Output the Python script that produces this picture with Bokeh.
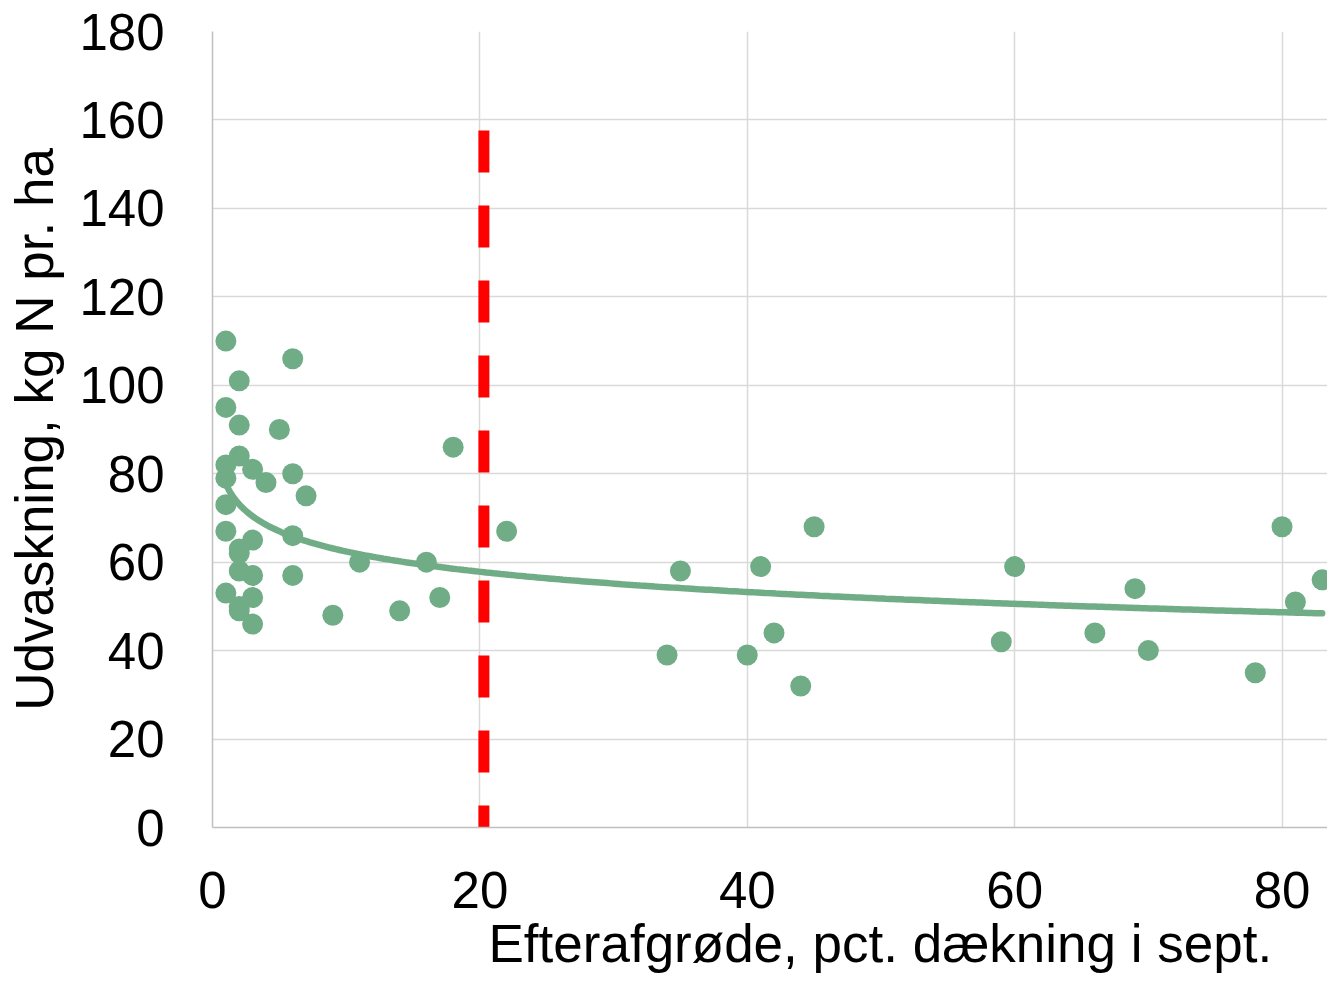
import numpy as np
from bokeh.plotting import figure
from bokeh.models import Range1d, FixedTicker, Title
from bokeh.embed import file_html
from bokeh.resources import INLINE

# ---- data ----
cover_pct = [1, 6, 2, 1, 2, 5, 2, 1, 3, 6, 1, 4, 7, 1, 18, 1, 6, 3, 2, 2,
             2, 3, 6, 1, 3, 2, 2, 3, 9, 22, 11, 16, 14, 17, 45, 35, 41, 34, 40, 42,
             44, 60, 59, 69, 66, 70, 78, 80, 81, 83]
leaching = [110, 106, 101, 95, 91, 90, 84, 82, 81, 80, 79, 78, 75, 73, 86, 67, 66, 65, 63, 62,
            58, 57, 57, 53, 52, 50, 49, 46, 48, 67, 60, 60, 49, 52, 68, 58, 59, 39, 39, 44,
            32, 59, 42, 54, 44, 40, 35, 68, 51, 56]

threshold_x = [20.3, 20.3]
threshold_y = [157.6, 0]

x_ticks = [0, 20, 40, 60, 80]
y_ticks = [0, 20, 40, 60, 80, 100, 120, 140, 160, 180]

x_title = "Efterafgrøde, pct. dækning i sept."
y_title = "Udvaskning, kg N pr. ha"

GREEN = "#70AD87"
FONT = "Liberation Sans"

# logarithmic trendline fitted to the points (as the spreadsheet trendline)
lx = np.log(np.array(cover_pct, dtype=float))
b, a = np.polyfit(lx, np.array(leaching, dtype=float), 1)
trend_x = np.linspace(min(cover_pct), max(cover_pct), 300)
trend_y = a + b * np.log(trend_x)

W, H = 1327, 974
LEFT, TOP, BOTTOM_PX = 212, 31, 827
x_end = (W - LEFT) / 13.369

p = figure(width=W, height=H,
           x_range=Range1d(0, x_end), y_range=Range1d(0, 180),
           output_backend="svg", toolbar_location=None,
           min_border_left=LEFT, min_border_top=TOP, min_border_bottom=H - BOTTOM_PX,
           min_border_right=0)
p.outline_line_color = None
p.background_fill_color = "white"
p.border_fill_color = "white"

for ax in (p.xaxis, p.yaxis):
    ax.axis_line_color = "#bfbfbf"
    ax.axis_line_width = 1.5
    ax.major_tick_line_color = None
    ax.minor_tick_line_color = None
    ax.major_tick_out = 0
    ax.major_tick_in = 0
    ax.major_label_text_font = FONT
    ax.major_label_text_font_size = "51px"
    ax.major_label_text_color = "black"

p.xaxis.ticker = FixedTicker(ticks=x_ticks)
p.yaxis.ticker = FixedTicker(ticks=y_ticks)
p.xaxis.major_label_standoff = 44
p.yaxis.major_label_standoff = 48

p.yaxis.axis_label = y_title
p.yaxis.axis_label_text_font = FONT
p.yaxis.axis_label_text_font_size = "53px"
p.yaxis.axis_label_text_font_style = "normal"
p.yaxis.axis_label_text_color = "black"
p.yaxis.axis_label_standoff = 12

p.xgrid.ticker = FixedTicker(ticks=x_ticks)
p.ygrid.ticker = FixedTicker(ticks=y_ticks)
for g in (p.xgrid, p.ygrid):
    g.grid_line_color = "#d9d9d9"
    g.grid_line_width = 1.5

p.line(trend_x, trend_y, line_color=GREEN, line_width=6.5, line_cap="round")
p.scatter(cover_pct, leaching, size=21, fill_color=GREEN, line_color=None)
p.line(threshold_x, threshold_y, line_color="#FF0000", line_width=11,
       line_dash="42 33", line_cap="butt")

p.add_layout(Title(text=x_title, align="left", offset=276,
                   text_font=FONT, text_font_size="53px", text_font_style="normal",
                   text_color="black", standoff=3), "below")

open("out.html", "w").write(file_html(p, INLINE))
